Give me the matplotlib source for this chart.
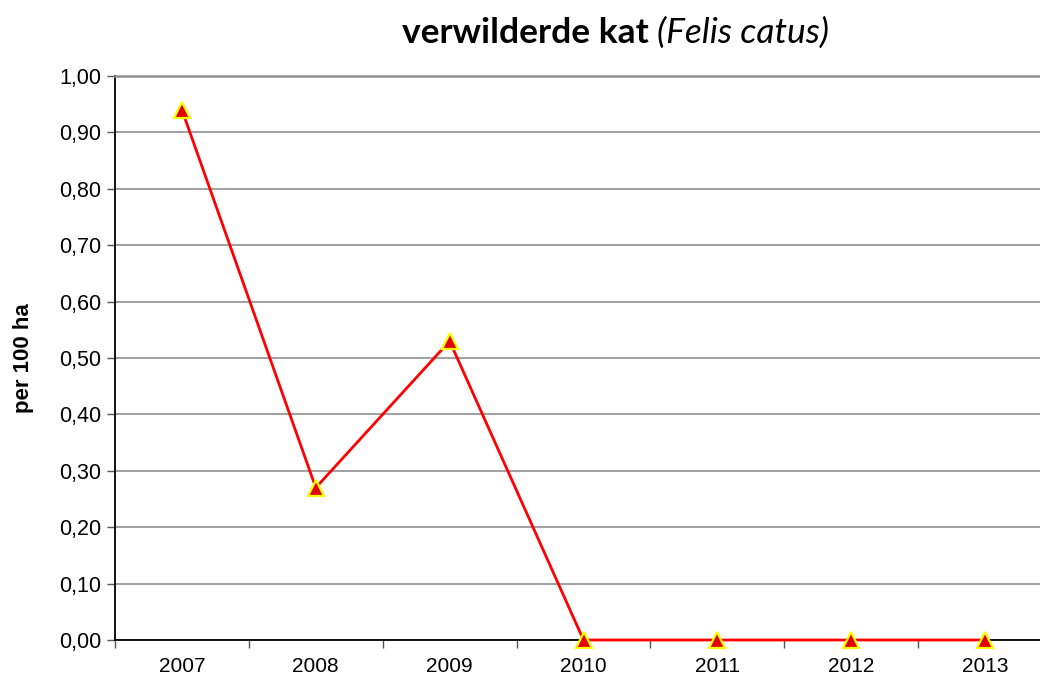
import matplotlib
matplotlib.use("Agg")
import matplotlib.pyplot as plt
from matplotlib.ticker import FuncFormatter, FixedLocator

years = ["2007", "2008", "2009", "2010", "2011", "2012", "2013"]
values = [0.94, 0.27, 0.53, 0.0, 0.0, 0.0, 0.0]
yticks = [0.0, 0.1, 0.2, 0.3, 0.4, 0.5, 0.6, 0.7, 0.8, 0.9, 1.0]

plt.rcParams['font.family'] = ['Liberation Sans', 'DejaVu Sans']

W, H = 1040, 677
fig = plt.figure(figsize=(W / 100, H / 100), dpi=100)
left, right, top, bottom = 115, 1052, 76, 640
ax = fig.add_axes([left / W, (H - bottom) / H, (right - left) / W, (bottom - top) / H])

x = list(range(len(years)))
ax.plot(x, values, color='#ff0000', lw=2, marker='^', markersize=11,
        markerfacecolor='#e00000', markeredgecolor='#ffff00', markeredgewidth=1.6,
        zorder=5, clip_on=False)

ax.set_xlim(-0.5, len(years) - 0.5)
ax.set_ylim(0, 1.0)
ax.set_yticks(yticks)
ax.yaxis.set_major_formatter(FuncFormatter(lambda v, p: f"{v:.2f}".replace('.', ',')))
ax.set_xticks(x)
ax.set_xticklabels(years)
ax.xaxis.set_minor_locator(FixedLocator([i + 0.5 for i in range(-1, len(years))]))
ax.tick_params(axis='x', which='major', length=0, labelsize=15, pad=12)
ax.tick_params(axis='x', which='minor', length=6, width=1, color='#555555', direction='out')
ax.tick_params(axis='y', length=6, width=1, color='#555555', direction='out', labelsize=15.5, pad=4)

ax.grid(axis='y', color='#909090', lw=1.2)
ax.set_axisbelow(True)
ax.spines['right'].set_visible(False)
ax.spines['top'].set_color('#909090')
ax.spines['top'].set_linewidth(1.8)
ax.spines['left'].set_color('black')
ax.spines['left'].set_linewidth(1.3)
ax.spines['bottom'].set_color('black')
ax.spines['bottom'].set_linewidth(1.3)

ax.set_ylabel("per 100 ha", fontsize=16, fontweight='bold', labelpad=18)

fig.text(657 / W, 1 - 33 / H, "verwilderde kat ", fontsize=25.5, fontweight='bold',
         family=['Lato', 'DejaVu Sans'], ha='right', va='center')
fig.text(657 / W, 1 - 33 / H, "(Felis catus)", fontsize=25.5, style='italic',
         family=['Lato', 'DejaVu Sans'], ha='left', va='center')

fig.savefig("out.png", dpi=100)
